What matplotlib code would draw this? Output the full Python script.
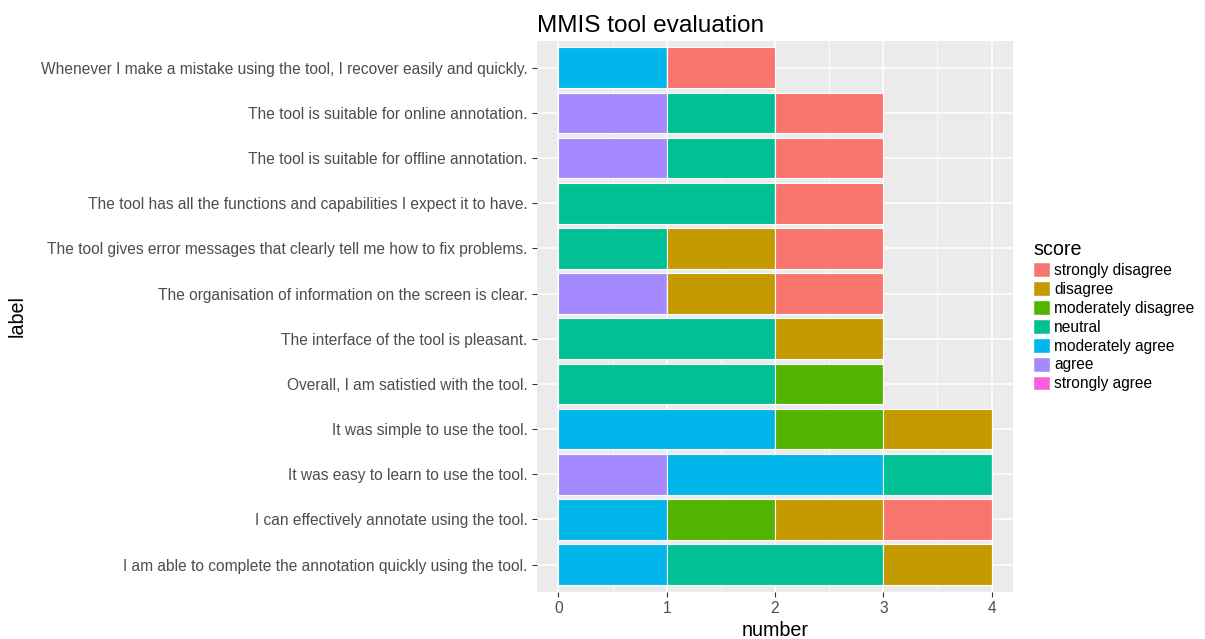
import matplotlib.pyplot as plt
import numpy as np
from matplotlib.patches import Patch

plt.rcParams['font.family'] = ['Liberation Sans', 'DejaVu Sans']

# questions, bottom to top
labels = [
    "I am able to complete the annotation quickly using the tool.",
    "I can effectively annotate using the tool.",
    "It was easy to learn to use the tool.",
    "It was simple to use the tool.",
    "Overall, I am satistied with the tool.",
    "The interface of the tool is pleasant.",
    "The organisation of information on the screen is clear.",
    "The tool gives error messages that clearly tell me how to fix problems.",
    "The tool has all the functions and capabilities I expect it to have.",
    "The tool is suitable for offline annotation.",
    "The tool is suitable for online annotation.",
    "Whenever I make a mistake using the tool, I recover easily and quickly.",
]

scores = ["strongly disagree", "disagree", "moderately disagree", "neutral",
          "moderately agree", "agree", "strongly agree"]
colors = ["#F8766D", "#C49A00", "#53B400", "#00C094", "#00B6EB", "#A58AFF", "#FB61D7"]

strongly_disagree = [0, 1, 0, 0, 0, 0, 1, 1, 1, 1, 1, 1]
disagree = [1, 1, 0, 1, 0, 1, 1, 1, 0, 0, 0, 0]
moderately_disagree = [0, 1, 0, 1, 1, 0, 0, 0, 0, 0, 0, 0]
neutral = [2, 0, 1, 0, 2, 2, 0, 1, 2, 1, 1, 0]
moderately_agree = [1, 1, 2, 2, 0, 0, 0, 0, 0, 0, 0, 1]
agree = [0, 0, 1, 0, 0, 0, 1, 0, 0, 1, 1, 0]
strongly_agree = [0] * 12

counts = [strongly_disagree, disagree, moderately_disagree, neutral,
          moderately_agree, agree, strongly_agree]

fig = plt.figure(figsize=(12.05, 6.39), dpi=100)
ax = fig.add_axes([536.7 / 1205, 1 - 591.7 / 639, (1013.3 - 536.7) / 1205, 551 / 639])
ax.set_facecolor("#EBEBEB")

y = np.arange(len(labels))
left = np.zeros(len(labels))
# ggplot stacks the first level furthest out, so draw in reverse
for name, col, vals in reversed(list(zip(scores, colors, counts))):
    vals = np.array(vals, dtype=float)
    ax.barh(y, vals, left=left, height=0.9, color=col, edgecolor="white",
            linewidth=0.8, zorder=3)
    left += vals

ax.set_xlim(-0.2, 4.2)
ax.set_ylim(-0.6, len(labels) - 0.4)
ax.set_xticks([0, 1, 2, 3, 4])
ax.set_xticks([0.5, 1.5, 2.5, 3.5], minor=True)
ax.set_yticks(y)
ax.set_yticklabels(labels)
ax.grid(which="major", color="white", linewidth=1.1, zorder=0)
ax.grid(which="minor", axis="x", color="white", linewidth=0.55, zorder=0)
ax.tick_params(which="major", length=3.5, width=0.8, color="#333333",
               labelcolor="#4D4D4D", labelsize=11.2, pad=3)
ax.tick_params(which="minor", length=0)
for s in ax.spines.values():
    s.set_visible(False)

ax.set_xlabel("number", fontsize=14.2, labelpad=4)
ax.set_ylabel("label", fontsize=14.2)
ax.yaxis.set_label_coords((27 - 536.7) / 476.6, 0.5)
ax.set_title("MMIS tool evaluation", fontsize=17.6, loc="left", pad=6)

handles = [Patch(facecolor=c, edgecolor="white", label=s) for s, c in zip(scores, colors)]
leg = fig.legend(handles=handles, title="score", loc="upper left",
                 bbox_to_anchor=(1027 / 1205, 1 - 234 / 639), frameon=False,
                 fontsize=11.2, title_fontsize=14.2, handlelength=1.1,
                 handleheight=1.1, handletextpad=0.25, labelspacing=0.2,
                 borderaxespad=0)
leg._legend_box.align = "left"

fig.savefig("out.png", dpi=100)
